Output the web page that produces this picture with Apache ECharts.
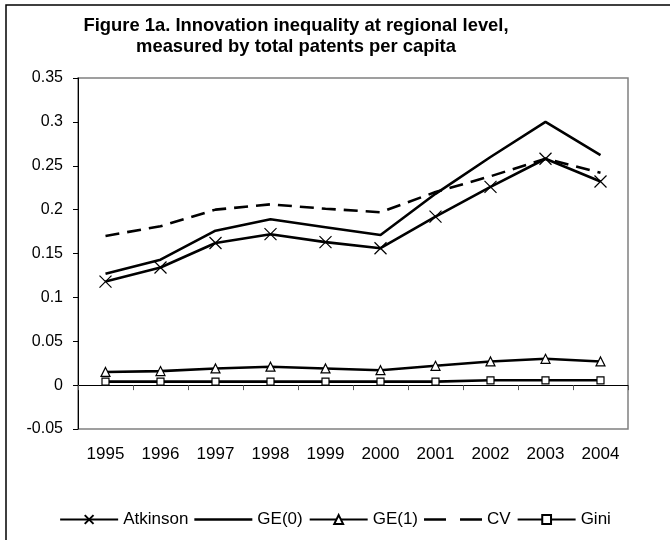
<!DOCTYPE html>
<html>
<head>
<meta charset="utf-8">
<script src="https://cdn.jsdelivr.net/npm/echarts@6/dist/echarts.min.js"></script>
<style>
  html, body { margin: 0; padding: 0; background: #fff; }
  #chart { width: 670px; height: 540px; }
</style>
</head>
<body>
<div id="chart"></div>
<script>
// data
var years = ['1995', '1996', '1997', '1998', '1999', '2000', '2001', '2002', '2003', '2004'];
var atkinson = [0.118, 0.134, 0.162, 0.172, 0.163, 0.156, 0.192, 0.226, 0.258, 0.232];
var ge0 = [0.127, 0.143, 0.176, 0.189, 0.180, 0.171, 0.218, 0.260, 0.300, 0.262];
var ge1 = [0.015, 0.016, 0.019, 0.021, 0.019, 0.017, 0.022, 0.027, 0.030, 0.027];
var cv = [0.170, 0.181, 0.200, 0.206, 0.201, 0.197, 0.220, 0.238, 0.258, 0.242];
var gini = [0.004, 0.004, 0.004, 0.004, 0.004, 0.004, 0.004, 0.0055, 0.0055, 0.0055];
var yTicks = { min: -0.05, max: 0.35, step: 0.05 };

var font = 'Liberation Sans, Arial, sans-serif';
var myChart = echarts.init(document.getElementById('chart'));

function lineSeries(name, data, extra) {
  var s = {
    name: name,
    type: 'line',
    data: data,
    symbol: 'none',
    lineStyle: { color: '#000', width: 2.6 },
    itemStyle: { color: '#fff', borderColor: '#000', borderWidth: 1.2 },
    emphasis: { disabled: true }
  };
  return Object.assign(s, extra || {});
}

// plain line icons for the series without markers
var solidIcon = 'path://M0 0H58V2.6H0Z';
var dashIcon = 'path://M0 0H22V2.6H0Z M36 0H58V2.6H36Z';

myChart.setOption({
  animation: false,
  backgroundColor: '#fff',
  title: {
    text: 'Figure 1a. Innovation inequality at regional level,\nmeasured by total patents per capita',
    left: 291,
    top: 10,
    textAlign: 'center',
    textStyle: { fontFamily: font, fontSize: 18.4, fontWeight: 'bold', color: '#000', lineHeight: 21 }
  },
  graphic: [{
    type: 'rect',
    shape: { x: 6, y: 5, width: 700, height: 600 },
    style: { fill: 'none', stroke: '#000', lineWidth: 1.5 },
    silent: true
  }],
  legend: {
    left: 'center',
    top: 506,
    itemWidth: 58,
    itemHeight: 11,
    itemGap: 6,
    textStyle: { fontFamily: font, fontSize: 17, color: '#000' },
    data: [
      'Atkinson',
      { name: 'GE(0)', icon: solidIcon, itemStyle: { color: '#000', borderWidth: 0 } },
      'GE(1)',
      { name: 'CV', icon: dashIcon, itemStyle: { color: '#000', borderWidth: 0 } },
      'Gini'
    ]
  },
  grid: {
    left: 78,
    right: 42,
    top: 78,
    bottom: 111,
    show: true,
    borderColor: '#808080',
    borderWidth: 1.5
  },
  xAxis: {
    type: 'category',
    data: years,
    boundaryGap: true,
    axisLine: { lineStyle: { color: '#000', width: 1 } },
    axisTick: { show: true, length: 5, lineStyle: { color: '#555' } },
    axisLabel: { fontFamily: font, fontSize: 17, color: '#000', margin: 17 },
    splitLine: { show: false }
  },
  yAxis: {
    type: 'value',
    min: yTicks.min,
    max: yTicks.max,
    interval: yTicks.step,
    axisLine: { show: true, lineStyle: { color: '#000', width: 1 } },
    axisTick: { show: true, length: 5, lineStyle: { color: '#000' } },
    axisLabel: {
      fontFamily: font, fontSize: 16, color: '#000', margin: 15,
      formatter: function (v) { return String(+v.toFixed(2)); }
    },
    splitLine: { show: false }
  },
  series: [
    lineSeries('Atkinson', atkinson, { symbol: 'path://M0 0L10 10M10 0L0 10', symbolSize: 12 }),
    lineSeries('GE(0)', ge0),
    lineSeries('GE(1)', ge1, { symbol: 'triangle', symbolSize: 9 }),
    lineSeries('CV', cv, { lineStyle: { color: '#000', width: 2.6, type: [14, 8] } }),
    lineSeries('Gini', gini, { symbol: 'rect', symbolSize: 7 })
  ]
});
</script>
</body>
</html>
